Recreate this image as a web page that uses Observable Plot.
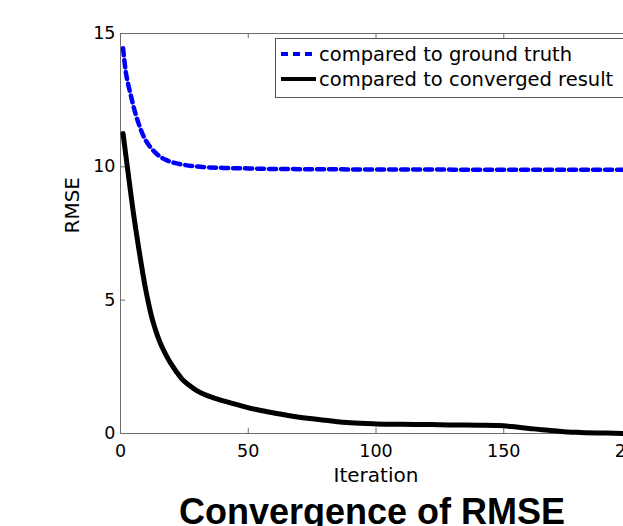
<!DOCTYPE html>
<html>
<head>
<meta charset="utf-8">
<script src="https://cdn.jsdelivr.net/npm/d3@7"></script>
<script src="https://cdn.jsdelivr.net/npm/@observablehq/plot@0.6"></script>
<style>
  html, body { margin: 0; padding: 0; background: #fff; overflow: hidden; }
  #wrap { position: relative; width: 623px; height: 526px; overflow: hidden; }
  #chart svg { max-width: none !important; width: 660px !important; height: 526px !important; display: block; }
  #legend { position: absolute; left: 275px; top: 38px; width: 353px; height: 58px;
            border: 1px solid #555; background: #fff; font-family: "DejaVu Sans", sans-serif;
            font-size: 19.5px; color: #000; }
  .row { position: absolute; left: 0; height: 24px; display: flex; align-items: center; white-space: nowrap; }
  .row svg { margin-left: 5px; margin-right: 3px; }
</style>
</head>
<body>
<div id="wrap"><div id="chart"></div><div id="legend"></div></div>
<script>
// Series 1: compared to ground truth
const iterGT = [1, 2, 3, 4, 5, 6, 7, 8, 9, 10, 12, 14, 16, 18, 20, 25, 30, 40, 50, 60, 80, 100, 120, 140, 160, 180, 200];
const rmseGT = [14.45, 13.6, 13.1, 12.7, 12.3, 11.95, 11.65, 11.38, 11.15, 10.97, 10.7, 10.5, 10.35, 10.25, 10.18, 10.07, 10.01, 9.96, 9.94, 9.92, 9.91, 9.9, 9.9, 9.89, 9.89, 9.89, 9.89];

// Series 2: compared to converged result
const iterCR = [1, 2, 3, 4, 5, 6, 7, 8, 9, 10, 11, 12, 13, 14, 15, 16, 17, 18, 19, 20, 22, 24, 27, 30, 34, 38, 43, 48, 54, 60, 70, 80, 90, 100, 110, 120, 130, 140, 148, 155, 160, 165, 170, 175, 180, 190, 200];
const rmseCR = [11.25, 10.5, 9.76, 9.02, 8.3, 7.65, 7.03, 6.43, 5.85, 5.33, 4.87, 4.45, 4.1, 3.8, 3.53, 3.3, 3.1, 2.91, 2.74, 2.58, 2.3, 2.05, 1.8, 1.6, 1.42, 1.29, 1.15, 1.02, 0.88, 0.77, 0.61, 0.5, 0.4, 0.36, 0.345, 0.335, 0.32, 0.31, 0.3, 0.24, 0.19, 0.14, 0.1, 0.06, 0.04, 0.015, 0.0];

const seriesNames = ["compared to ground truth", "compared to converged result"];
const seriesColors = ["#0000ff", "#000000"];
const xTicks = [0, 50, 100, 150, 200];
const yTicks = [0, 5, 10, 15];
const xLabel = "Iteration";
const yLabel = "RMSE";
const titleText = "Convergence of RMSE";

const gt = iterGT.map((x, i) => ({x, y: rmseGT[i]}));
const cr = iterCR.map((x, i) => ({x, y: rmseCR[i]}));

const frameColor = "#6e6e6e";

const chart = Plot.plot({
  width: 660,
  height: 526,
  marginLeft: 120,
  marginRight: 29,
  marginTop: 33,
  marginBottom: 93,
  x: {domain: [0, 200]},
  y: {domain: [0, 15]},
  style: {fontFamily: "DejaVu Sans", background: "#fff", color: "#000", maxWidth: "none"},
  marks: [
    Plot.frame({stroke: frameColor, strokeWidth: 1}),
    Plot.ruleX(xTicks, {x: d => d, y1: 0, y2: 0.2, stroke: frameColor}),
    Plot.ruleX(xTicks, {x: d => d, y1: 15, y2: 14.8, stroke: frameColor}),
    Plot.ruleY(yTicks, {y: d => d, x1: 0, x2: 2, stroke: frameColor}),
    Plot.axisX(xTicks, {anchor: "bottom", tickSize: 0, tickPadding: 11, fontSize: 17.5, label: null, tickFormat: d => String(d)}),
    Plot.axisY(yTicks, {anchor: "left", tickSize: 0, tickPadding: 5, fontSize: 17.5, label: null, tickFormat: d => String(d)}),
    Plot.line(gt, {x: "x", y: "y", stroke: seriesColors[0], strokeWidth: 4.5, strokeDasharray: "7,5", curve: "monotone-x"}),
    Plot.line(cr, {x: "x", y: "y", stroke: seriesColors[1], strokeWidth: 5, curve: "monotone-x"}),
    Plot.text([xLabel], {frameAnchor: "bottom", lineAnchor: "middle", dy: 42, fontSize: 20}),
    Plot.text([yLabel], {frameAnchor: "left", lineAnchor: "middle", dx: -47.5, rotate: -90, fontSize: 20}),
    Plot.text([titleText], {frameAnchor: "bottom", lineAnchor: "middle", dx: -4, dy: 79, fontSize: 36, fontWeight: "bold", fontFamily: "Liberation Sans"})
  ]
});
document.getElementById("chart").appendChild(chart);

// Legend built from the series arrays
const legend = document.getElementById("legend");
const rowTops = [3, 28];
seriesNames.forEach((name, i) => {
  const row = document.createElement("div");
  row.className = "row";
  row.style.top = rowTops[i] + "px";
  const dash = i === 0 ? 'stroke-dasharray="7,5"' : '';
  row.innerHTML = `<svg width="35" height="10"><line x1="0" y1="5" x2="35" y2="5" stroke="${seriesColors[i]}" stroke-width="4" ${dash}/></svg><span>${name}</span>`;
  legend.appendChild(row);
});
</script>
</body>
</html>
